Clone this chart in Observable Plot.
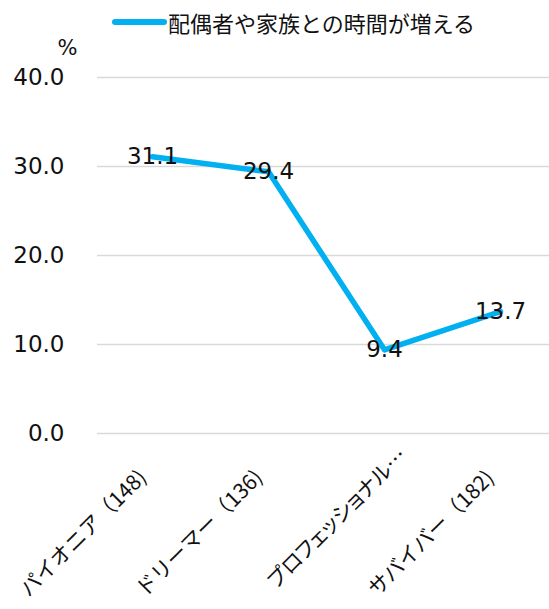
<!DOCTYPE html>
<html><head><meta charset="utf-8">
<script src="https://cdn.jsdelivr.net/npm/d3@7"></script>
<script src="https://cdn.jsdelivr.net/npm/@observablehq/plot@0.6"></script>
<style>
body{margin:0;background:#fff;font-family:"DejaVu Sans","Noto Sans CJK JP",sans-serif;}
#wrap{width:549px;height:609px;position:relative;overflow:hidden;}
#legend{height:30px;position:relative;}
#legend .sw{position:absolute;left:112px;top:19px;width:55px;height:6px;background:#00B0F0;border-radius:3px;}
#legend .lt{position:absolute;left:168px;top:7px;font-size:22px;line-height:30px;color:#111;font-family:"Noto Sans CJK JP",sans-serif;white-space:nowrap;}
.trunc text{font-feature-settings:"palt";}
</style></head>
<body><div id="wrap"><div id="legend"></div><div id="chart"></div></div>
<script>
const seriesName = "配偶者や家族との時間が増える";
const categories = ["パイオニア（148)", "ドリーマー（136)", "プロフェッショナル…", "サバイバー（182)"];
const values = [31.1, 29.4, 9.4, 13.7];
const yTicks = [0, 10, 20, 30, 40];
const unitLabel = "%";

const data = categories.map((c, i) => ({c, v: values[i]}));
const isTrunc = d => d.c.endsWith("…");

document.getElementById("legend").innerHTML =
  `<div class="sw"></div><div class="lt">${seriesName}</div>`;

const labelFont = '"Noto Sans CJK JP","DejaVu Sans",sans-serif';

const chart = Plot.plot({
  width: 549,
  height: 579,
  marginTop: 47,
  marginBottom: 176,
  marginLeft: 97,
  marginRight: 0,
  style: {fontFamily: '"DejaVu Sans","Noto Sans CJK JP",sans-serif', fontSize: "23px", color: "#111", background: "#fff"},
  x: {type: "point", domain: categories, range: [152, 500], padding: 0, axis: null},
  y: {domain: [0, 40], ticks: yTicks, tickFormat: d => d.toFixed(1), tickSize: 0, tickPadding: 33, grid: false, label: null},
  marks: [
    Plot.gridY(yTicks, {stroke: "#d9d9d9", strokeOpacity: 1, strokeWidth: 1.3}),
    Plot.axisY(yTicks, {tickFormat: d => d.toFixed(1), tickSize: 0, tickPadding: 33, fontSize: 23, label: null, fill: "#111"}),
    Plot.text([unitLabel], {frameAnchor: "top-left", dx: -30, dy: -37, textAnchor: "middle", fontSize: 21, fill: "#111"}),
    Plot.line(data, {x: "c", y: "v", stroke: "#00B0F0", strokeWidth: 5.5}),
    Plot.text(data, {x: "c", y: "v", text: d => d.v.toFixed(1), fontSize: 23, fill: "#111"}),
    Plot.text(data.filter(d => !isTrunc(d)), {x: "c", frameAnchor: "bottom", text: "c", rotate: -45, textAnchor: "middle", lineAnchor: "middle", dx: -69, dy: 100, fontSize: 21, fill: "#111", fontFamily: labelFont}),
    Plot.text(data.filter(isTrunc), {x: "c", frameAnchor: "bottom", text: "c", rotate: -45, textAnchor: "middle", lineAnchor: "middle", dx: -47, dy: 85, fontSize: 21, fill: "#111", fontFamily: labelFont, className: "trunc"})
  ]
});
document.getElementById("chart").appendChild(chart);
</script></body></html>
